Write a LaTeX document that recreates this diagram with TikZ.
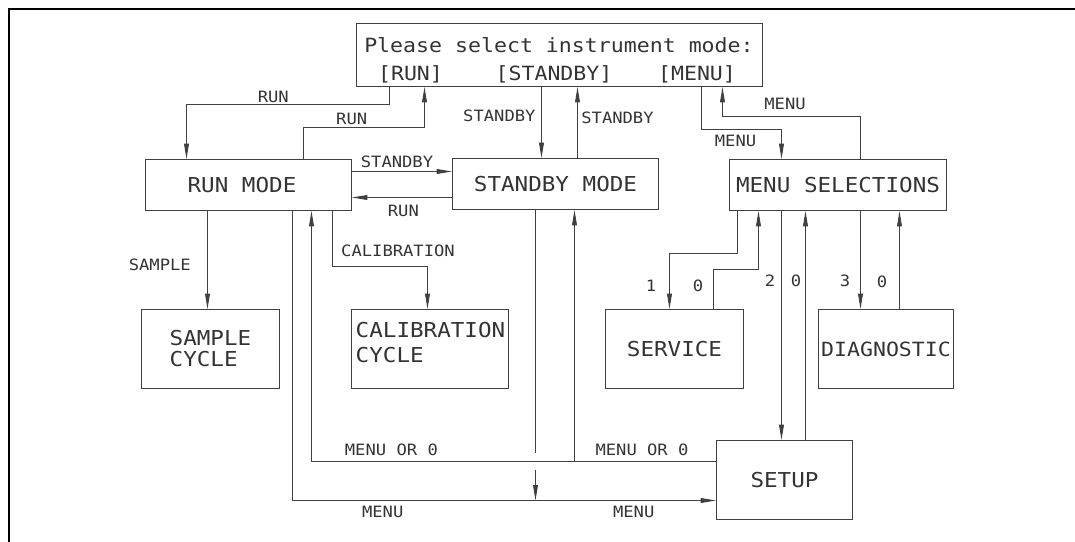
\documentclass[tikz,border=0pt]{standalone}
\usepackage{fontspec}
\newfontfamily\cadfont[FakeStretch=1.1]{DejaVu Sans Mono}
\usetikzlibrary{arrows.meta}
\begin{document}
\begin{tikzpicture}[x=0.75pt,y=-0.75pt,
  ln/.style={draw=black!75, line width=0.75pt},
  arr/.style={ln, -{Triangle[length=11.5pt,width=3.6pt]}},
  box/.style={draw=black!75, line width=0.75pt, rectangle, inner sep=0pt, align=left, text=black!80, font=\cadfont\fontsize{15.4}{15.75}\selectfont},
  boxtext/.style={inner sep=0pt, align=left, text=black!80, font=\cadfont\fontsize{15.4}{19.35}\selectfont},
  lbl/.style={inner sep=0pt, text=black!80, font=\cadfont\fontsize{11.7}{14}\selectfont},
  ttl/.style={inner sep=0pt, anchor=base, text=black!80, font=\cadfont\fontsize{14.7}{18}\selectfont}
]
\useasboundingbox (0,0) rectangle (1075,542);
\draw[line width=1.75pt] (9.2,542) -- (9.2,9.2) -- (1075,9.2);

% boxes
\node[box, minimum width=304.5pt, minimum height=47.25pt] (top) at (559.5,55) {};
\node[ttl, anchor=base west] (tl1) at (364,52.8) {Please select instrument mode:};
\node[ttl] (tl2a) at (410.5,80) {[RUN]};
\node[ttl] (tl2b) at (554,80) {[STANDBY]};
\node[ttl] (tl2c) at (697,80) {[MENU]};

\node[box, minimum width=154.5pt, minimum height=38.25pt] (runmode) at (248.5,185) {RUN MODE\hspace*{9.75pt}};
\node[box, minimum width=154.5pt, minimum height=38.25pt] (standby) at (555.5,184) {STANDBY MODE};
\node[box, minimum width=162.75pt, minimum height=38.25pt] (ms) at (838,185) {MENU SELECTIONS};
\node[box, minimum width=103.5pt, minimum height=59.25pt] (sample) at (210.5,349) {SAMPLE\\CYCLE};
\node[box, minimum width=117.75pt, minimum height=59.25pt] (cal) at (430,349) {};
\node[boxtext] (caltext) at (430.5,342.5) {CALIBRATION\\CYCLE};
\node[box, minimum width=103.5pt, minimum height=59.25pt] (service) at (674.5,349) {SERVICE};
\node[box, minimum width=101.25pt, minimum height=59.25pt, font=\cadfont\fontsize{14.7}{15.75}\selectfont] (diag) at (886,349) {DIAGNOSTIC};
\node[box, minimum width=102pt, minimum height=59.25pt] (setup) at (784.5,480) {SETUP};

% connectors
\draw[arr] (389.5,0 |- top.south) |- (186.5,104.5) -- (186.5,0 |- runmode.north);
\draw[arr] (303.5,0 |- runmode.north) |- (424.5,127.5) -- (424.5,0 |- top.south);
\draw[arr] (541.5,0 |- top.south) -- (541.5,0 |- standby.north);
\draw[arr] (577.5,0 |- standby.north) -- (577.5,0 |- top.south);
\draw[arr] (runmode.east |- 0,171.5) -- (standby.west |- 0,171.5);
\draw[arr] (standby.west |- 0,197.5) -- (runmode.east |- 0,197.5);
\draw[arr] (701.5,0 |- top.south) |- (781.5,129.5) -- (781.5,0 |- ms.north);
\draw[arr] (860.5,0 |- ms.north) |- (722.5,116.5) -- (722.5,0 |- top.south);
\draw[arr] (207.5,0 |- runmode.south) -- (207.5,0 |- sample.north);
\draw[arr] (332.5,0 |- runmode.south) |- (427.5,266.5) -- (427.5,0 |- cal.north);
\draw[arr] (292.5,0 |- runmode.south) |- (setup.west |- 0,500.5);
\coordinate (jumpA) at (535.5,452.5);
\coordinate (jumpB) at (535.5,469.5);
\coordinate (menuhit) at (535.5,500.5);
\draw[ln] (535.5,0 |- standby.south) -- (jumpA);
\draw[arr] (jumpB) -- (menuhit);
\draw[arr] (setup.west |- 0,461.5) -| (311.5,0 |- runmode.south);
\coordinate (branch) at (574.5,461.5);
\draw[arr] (branch) -- (574.5,0 |- standby.south);
\draw[arr] (737.5,0 |- ms.south) |- (669.5,253.5) -- (669.5,0 |- service.north);
\draw[arr] (713.5,0 |- service.north) |- (758.5,269.5) -- (758.5,0 |- ms.south);
\draw[arr] (781.5,0 |- ms.south) -- (781.5,0 |- setup.north);
\draw[arr] (805.5,0 |- setup.north) -- (805.5,0 |- ms.south);
\draw[arr] (860.5,0 |- ms.south) -- (860.5,0 |- diag.north);
\draw[arr] (899.5,0 |- diag.north) -- (899.5,0 |- ms.south);

% labels
\node[lbl] (l1) at (273.3,96.5) {RUN};
\node[lbl] (l2) at (351.7,119) {RUN};
\node[lbl] (l3) at (499.4,116) {STANDBY};
\node[lbl] (l4) at (617.5,117.5) {STANDBY};
\node[lbl] (l5) at (397,162) {STANDBY};
\node[lbl] (l6) at (403.4,210.7) {RUN};
\node[lbl] (l7) at (785,104) {MENU};
\node[lbl] (l8) at (735.5,141.3) {MENU};
\node[lbl] (l9) at (159.8,265) {SAMPLE};
\node[lbl] (l10) at (398,250.7) {CALIBRATION};
\node[lbl] (l11) at (391.4,449.5) {MENU OR 0};
\node[lbl] (l12) at (642,449.5) {MENU OR 0};
\node[lbl] (l13) at (382.7,511.7) {MENU};
\node[lbl] (l14) at (633.7,511.7) {MENU};
\node[lbl] (l15) at (651,285.5) {1};
\node[lbl] (l16) at (698,285.5) {0};
\node[lbl] (l17) at (770,280.5) {2};
\node[lbl] (l18) at (796,280.5) {0};
\node[lbl] (l19) at (845,280.5) {3};
\node[lbl] (l20) at (882,282) {0};
\end{tikzpicture}
\end{document}
